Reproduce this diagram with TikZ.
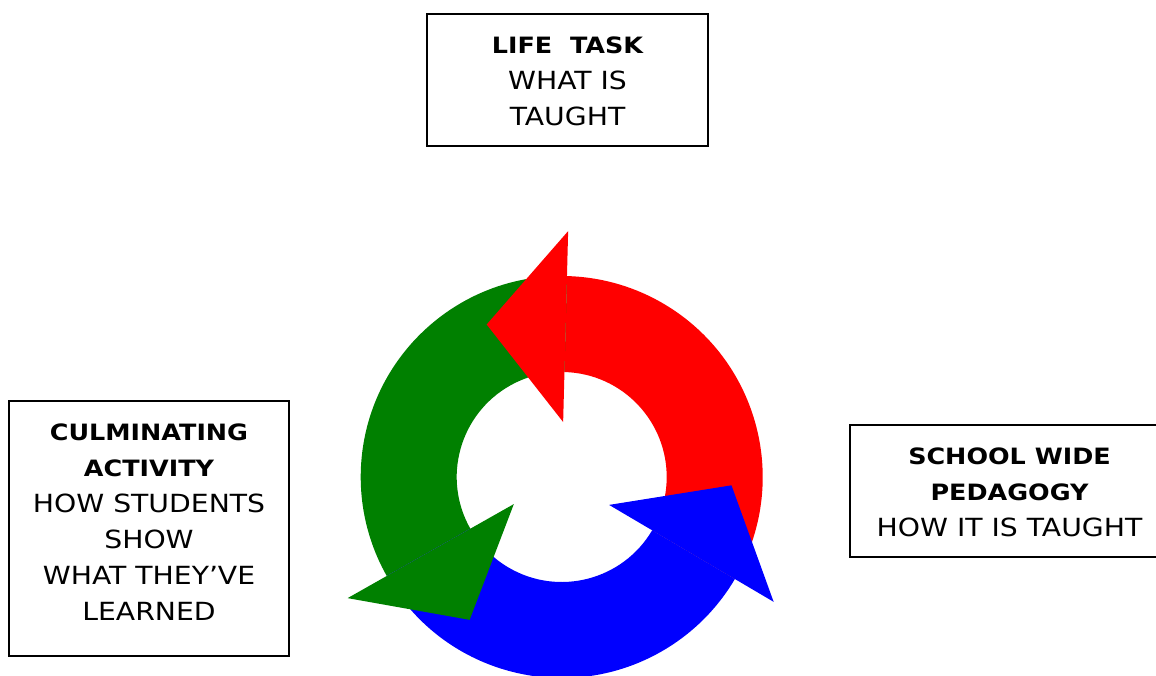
\documentclass[tikz,border=0pt]{standalone}
\usepackage{fontspec}
\setmainfont{DejaVu Sans}[FakeStretch=1.13]
\usetikzlibrary{calc}
\definecolor{cycred}{RGB}{255,0,0}
\definecolor{cycgreen}{RGB}{0,128,0}
\definecolor{cycblue}{RGB}{0,0,255}
\tikzset{
  infobox/.style={draw=black, line width=1.3pt, fill=white, inner sep=0pt},
  infotext/.style={align=center, font=\fontsize{25}{36}\selectfont, inner sep=0pt},
}
% ring segment of a cycle arrow: colour, tail angle, head angle
\newcommand{\ringbody}[3]{%
  \fill[#1] (#2:201) arc[start angle=#2, end angle=#3, radius=201]
    -- (#3:105) arc[start angle=#3, end angle=#2, radius=105] -- cycle;}
% triangular head of a cycle arrow: colour, head angle
\newcommand{\ringhead}[2]{%
  \fill[#1] (#2:55) -- (#2:246) -- ($(#2:150.5)+(#2+90:79)$) -- cycle;}
\newcommand{\hd}[1]{{\fontsize{22.5}{36}\selectfont\bfseries #1}}
\begin{document}
\begin{tikzpicture}[x=1pt,y=1pt]
  \clip (0,0) rectangle (1156,675);
  % three-part cycle
  \begin{scope}[shift={(561.7,198)}]
    \ringbody{cycred}{-30.5}{88.5}
    \ringbody{cycgreen}{88.5}{209.5}
    \ringbody{cycblue}{209.5}{329.5}
    \ringhead{cycred}{88.5}
    \ringhead{cycgreen}{209.5}
    \ringhead{cycblue}{329.5}
  \end{scope}
  % labels
  \node[infobox, minimum width=281pt, minimum height=132pt] (lifebox) at (567.5,595) {};
  \node[infotext] (lifetext) at ($(lifebox.center)+(0,-1)$) {\hd{LIFE\ \ TASK}\\WHAT IS\\TAUGHT};
  \node[infobox, minimum width=280pt, minimum height=255pt] (culmbox) at (149,146.5) {};
  \node[infotext] (culmtext) at ($(culmbox.center)+(0,6)$)
    {\hd{CULMINATING}\\\hd{ACTIVITY}\\HOW STUDENTS\\SHOW\\WHAT THEY’VE\\LEARNED};
  \node[infobox, minimum width=319pt, minimum height=132pt] (pedbox) at (1009.5,184) {};
  \node[infotext] (pedtext) at ($(pedbox.center)+(0,-1.5)$) {\hd{SCHOOL WIDE}\\\hd{PEDAGOGY}\\HOW IT IS TAUGHT};
\end{tikzpicture}
\end{document}
